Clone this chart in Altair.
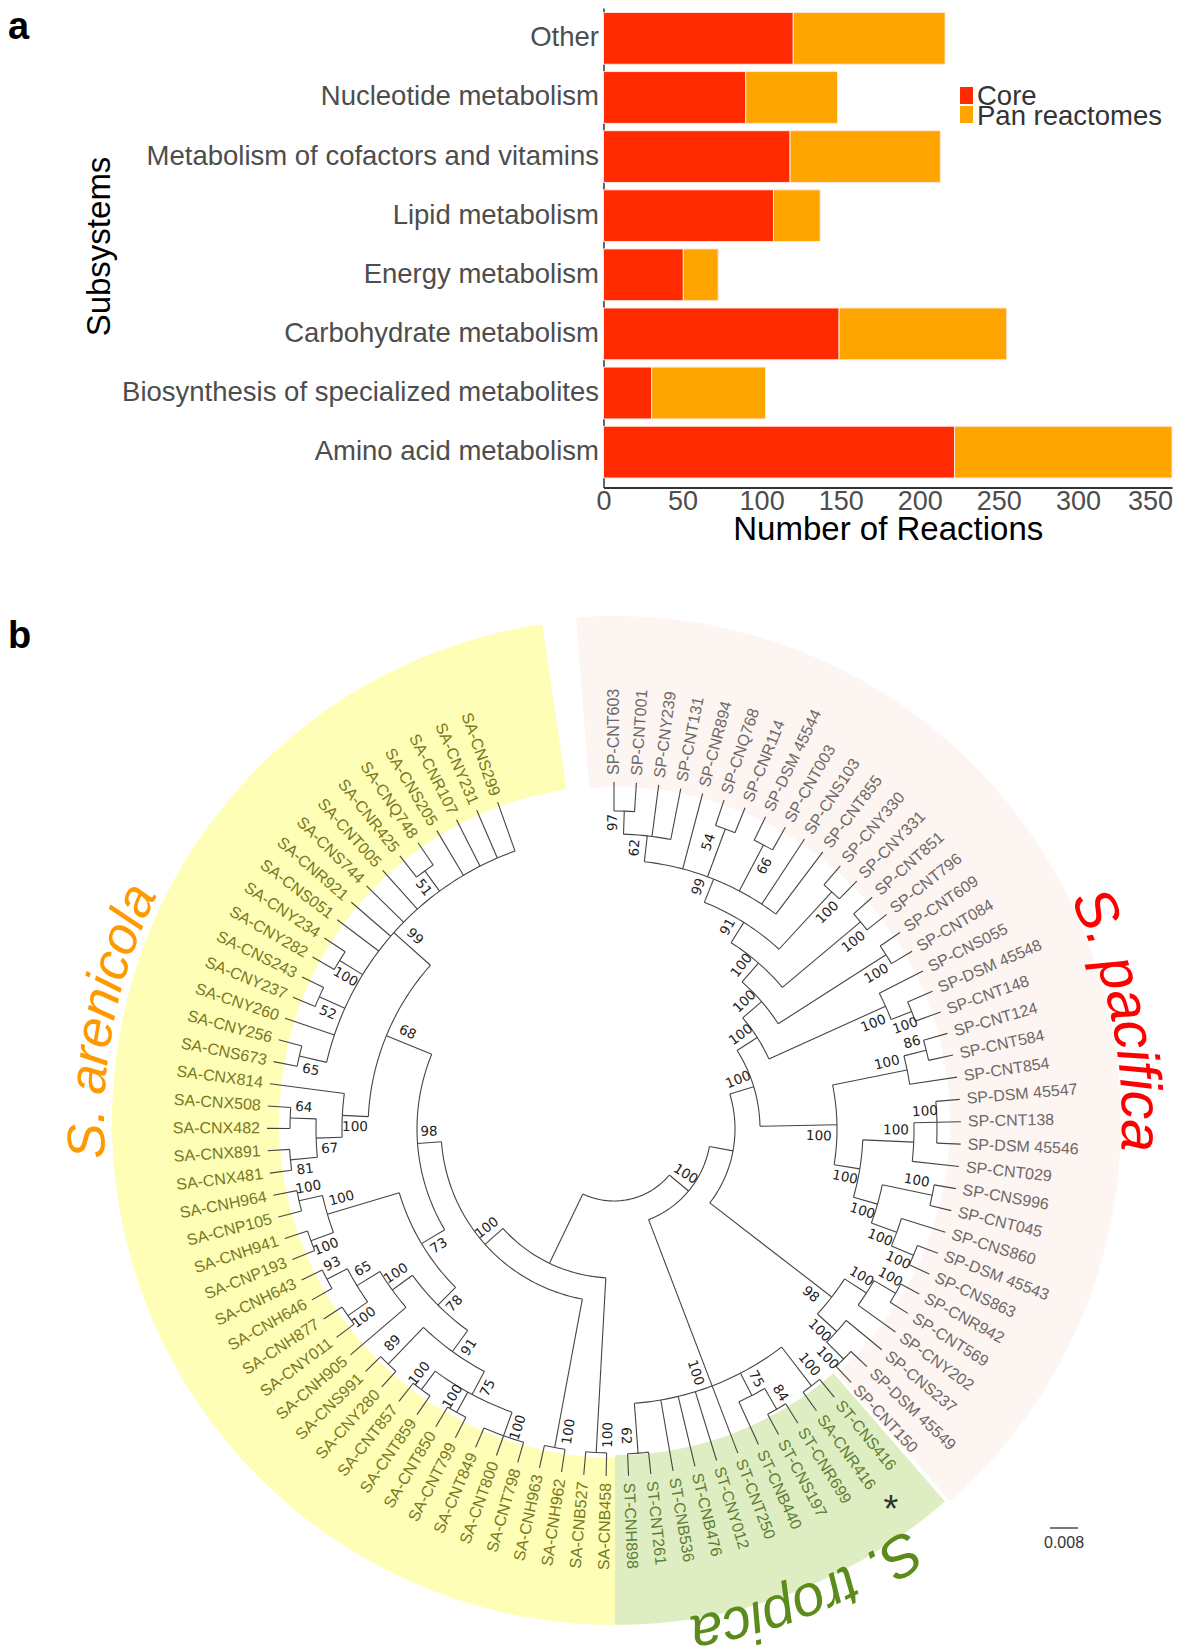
import math
import altair as alt
import pandas as pd

# ---------- panel a ----------
subsystems = ["Other", "Nucleotide metabolism", "Metabolism of cofactors and vitamins", "Lipid metabolism",
              "Energy metabolism", "Carbohydrate metabolism", "Biosynthesis of specialized metabolites",
              "Amino acid metabolism"]
core = [120, 90, 118, 107.5, 50.5, 149, 30.5, 222]
pan = [96, 58, 95, 29.5, 22, 106, 72, 137.5]
legend_names = ["Core", "Pan reactomes"]
legend_colors = ["#FF2A00", "#FFA500"]
FONT = "Liberation Sans"

# ---------- panel b ----------
leaves = ["SP-CNT603", "SP-CNT001", "SP-CNY239", "SP-CNT131", "SP-CNR894", "SP-CNQ768", "SP-CNR114", "SP-DSM 45544",
          "SP-CNT003", "SP-CNS103", "SP-CNT855", "SP-CNY330", "SP-CNY331", "SP-CNT851", "SP-CNT796", "SP-CNT609",
          "SP-CNT084", "SP-CNS055", "SP-DSM 45548", "SP-CNT148", "SP-CNT124", "SP-CNT584", "SP-CNT854", "SP-DSM 45547",
          "SP-CNT138", "SP-DSM 45546", "SP-CNT029", "SP-CNS996", "SP-CNT045", "SP-CNS860", "SP-DSM 45543", "SP-CNS863",
          "SP-CNR942", "SP-CNT569", "SP-CNY202", "SP-CNS237", "SP-DSM 45549", "SP-CNT150",
          "ST-CNS416", "SA-CNR416", "ST-CNR699", "ST-CNS197", "ST-CNB440", "ST-CNT250", "ST-CNY012", "ST-CNB476",
          "ST-CNB536", "ST-CNT261", "ST-CNH898",
          "SA-CNB458", "SA-CNB527", "SA-CNH962", "SA-CNH963", "SA-CNT798", "SA-CNT800", "SA-CNT849", "SA-CNT799",
          "SA-CNT850", "SA-CNT859", "SA-CNT857", "SA-CNY280", "SA-CNS991", "SA-CNH905", "SA-CNY011", "SA-CNH877",
          "SA-CNH646", "SA-CNH643", "SA-CNP193", "SA-CNH941", "SA-CNP105", "SA-CNH964", "SA-CNX481", "SA-CNX891",
          "SA-CNX482", "SA-CNX508", "SA-CNX814", "SA-CNS673", "SA-CNY256", "SA-CNY260", "SA-CNY237", "SA-CNS243",
          "SA-CNY282", "SA-CNY234", "SA-CNS051", "SA-CNR921", "SA-CNS744", "SA-CNT005", "SA-CNR425", "SA-CNQ748",
          "SA-CNS205", "SA-CNR107", "SA-CNY231", "SA-CNS299"]

# node = (radius, support, label side, children); an int child is an index in leaves
sp_top = (269, "99", -1, [(295, "62", -1, [(318, "97", -1, [0, 1]), 2, 3]), 4, (320, "54", -1, [5, 6]),
                          (321, "66", 1, [7, 8]), 9, 10])
sp_a = (244, "91", -1, [sp_top, (322, "100", 1, [11, 12])])
sp_b = (220, "100", -1, [sp_a, (322, "100", 1, [13, 14])])
sp_c = (195, "100", -1, [sp_b, (323, "100", 1, [15, 16])])
sp_d = (170, "100", -1, [sp_c, (298, "100", 1, [17, (320, "100", 1, [18, 19])])])
sp_e = (223, "100", 1, [(299, "100", -1, [(322, "86", -1, [20, 21]), 22]),
                        (249, "100", 1, [(300, "100", -1, [(323, "100", -1, [23, 24, 25]), 26]),
                                         (274, "100", 1, [(325, "100", -1, [27, 28]),
                                                          (301, "100", 1, [29, (325, "100", 1, [30, 31])])])])])
sp_f = (275, "98", 1, [(301, "100", -1, [(326, "100", -1, [32, 33]), 34]),
                       (301, "100", 1, [35, (325, "100", 1, [36, 37])])])
sp_all = (121, None, 1, [(146, "100", -1, [sp_d, sp_e]), sp_f])
st_all = (275, "100", 1, [(324, "100", -1, [38, 39]), (300, "75", -1, [(324, "84", -1, [40, 41]), 42]),
                          43, 44, 45, 46, (325, "62", 1, [47, 48])])
sa_a = (275, "91", -1, [(301, "75", -1, [(326, "100", -1, [53, 54, 55]), (324, "100", 1, [56, 57]),
                                         (324, "100", 1, [58, 59])]), (326, "89", 1, [60, 61])])
sa_b = (274, "100", 1, [62, (301, "65", 1, [(325, "100", -1, [63, 64]), (324, "93", 1, [65, 66])])])
sa_c = (224, "73", -1, [(249, "78", -1, [sa_a, sa_b]),
                        (299, "100", 1, [(323, "100", -1, [67, 68]), (323, "100", 1, [69, 70])])])
sa_d = (272, "100", -1, [(298, "67", -1, [(325, "81", -1, [71, 72]), (324, "64", 1, [73, 74])]), 75])
sa_e = (295, "99", 1, [(323, "65", -1, [76, 77]), 78, (323, "52", -1, [79, 80]), (322, "100", -1, [81, 82]),
                       83, 84, 85, 86, (320, "51", -1, [87, 88]), 89, 90, 91, 92])
sa_all = (149, None, 1, [(324, "100", -1, [49, 50]),
                         (173, "100", 1, [(324, "100", -1, [51, 52]),
                                          (197, "98", 1, [sa_c, (246, "68", 1, [sa_d, sa_e])])])])
tree = (72, None, 1, [(97, "100", -1, [sp_all, st_all]), sa_all])

CX, CY = 614, 1129        # tree centre
RING_CX, RING_CY = 615, 1122
STEP = 3.70               # degrees between neighbouring tips
TIP = 347
sectors = pd.DataFrame({
    "cx": [RING_CX] * 3, "cy": [RING_CY] * 3,
    "a0": [math.radians(a) for a in (180, -4.4, 139)],
    "a1": [math.radians(a) for a in (351.7, 138.5, 180)],
    "r0": [336, 335, 333], "r1": [503, 506, 503],
    "c": ["#FEFEB6", "#FCF5F2", "#DFEEC2"]})


def pol(theta, r):
    t = math.radians(theta)
    return CX + r * math.sin(t), CY - r * math.cos(t)


seg_rows, sup_rows, leaf_rows = [], [], []
seg_id = [0]


def add_line(points):
    seg_id[0] += 1
    for k, (th, r) in enumerate(points):
        x, y = pol(th, r)
        seg_rows.append({"id": seg_id[0], "o": k, "x": x, "y": y})


def rot_right(th):
    return (th - 90) % 360


def rot_left(th):
    return (th - 270) % 360


def layout(node, parent_r):
    if isinstance(node, int):
        th = node * STEP
        add_line([(th, parent_r), (th, TIP)])
        x, y = pol(th, TIP + 7)
        name = leaves[node]
        col = {"SP": "#6F6767", "SA": "#78781F", "ST": "#5F7D33"}[name[:2]]
        if node == 39:
            col = "#5F7D33"
        leaf_rows.append({"name": name, "x": x, "y": y, "c": col, "rot": rot_right(th) if th < 180 else rot_left(th),
                          "right": th < 180})
        return th
    r, sup, side, kids = node
    ths = [layout(c, r) for c in kids]
    th = (ths[0] + ths[-1]) / 2
    n = max(2, int(abs(ths[-1] - ths[0]) / 1.0) + 1)
    add_line([(ths[0] + (ths[-1] - ths[0]) * i / n, r) for i in range(n + 1)])
    if parent_r is not None:
        add_line([(th, parent_r), (th, r)])
        if sup:
            rl = r - min((r - parent_r) / 2, 18)
            al = th + side * math.degrees(11 / rl)
            x, y = pol(al, rl)
            sup_rows.append({"t": sup, "x": x, "y": y, "rot": rot_right(al) if al < 180 else rot_left(al)})
    return th


layout(tree, None)
segs = pd.DataFrame(seg_rows)
sups = pd.DataFrame(sup_rows)
leaf_df = pd.DataFrame(leaf_rows)

GLYPH = {"S": .667, ".": .278, " ": .278, "p": .556, "a": .556, "c": .5, "i": .222, "f": .278, "r": .333,
         "e": .556, "n": .556, "o": .556, "l": .222, "t": .278}
species = [("S. pacifica", 64, 58, "#FF0000", 524), ("S. arenicola", 266, 53, "#FF9900", 527),
           ("S. tropica", 144.4, 58, "#5B8C1A", 517)]
sp_rows = []
for txt, start, size, col, rad in species:
    adv = 0
    for ch in txt:
        w = GLYPH[ch] * size
        th = start + math.degrees((adv + w / 2) / rad)
        x = RING_CX + rad * math.sin(math.radians(th))
        y = RING_CY - rad * math.cos(math.radians(th))
        sp_rows.append({"ch": ch, "x": x, "y": y, "rot": th % 360, "c": col, "s": size, "sp": txt})
        adv += w
sp_df = pd.DataFrame([r for r in sp_rows if r["ch"] != " "])

# ---------- chart a ----------
bar_df = pd.DataFrame({"s": subsystems * 2, "v": core + pan,
                       "k": ["Core"] * 8 + ["Pan reactomes"] * 8, "o": [0] * 8 + [1] * 8})
PLOT_L, PLOT_R, PLOT_B = 595.5, 1164, 479.5
W, H = 1165, 1640
bars = alt.Chart(bar_df).mark_bar(stroke="#FFE8E0", strokeWidth=1).encode(
    y=alt.Y("s:N", sort=subsystems,
            scale=alt.Scale(range=[0, PLOT_B], paddingInner=0.1235, paddingOuter=0.118, align=0.32),
            axis=alt.Axis(title="Subsystems", titleFont=FONT, titleFontSize=33, titleFontWeight="normal",
                          titleColor="#000", titleX=-504, titleY=238, titleAngle=-90, titleAlign="center",
                          titleBaseline="middle", labelFont=FONT, labelFontSize=27.5, labelColor="#4d4d4d",
                          labelPadding=5, tickSize=0, domainColor="#333", domainWidth=1.5, grid=False,
                          labelLimit=600, offset=-PLOT_L)),
    x=alt.X("v:Q", stack="zero", scale=alt.Scale(domain=[0, 359.5], range=[PLOT_L, PLOT_R], nice=False),
            axis=alt.Axis(title="Number of Reactions", values=[0, 50, 100, 150, 200, 250, 300, 350],
                          titleFont=FONT, titleFontSize=33, titleFontWeight="normal", titleColor="#000",
                          titleY=42, titleBaseline="middle", labelFont=FONT, labelFontSize=27,
                          labelColor="#4d4d4d", labelPadding=1, tickSize=0, domainColor="#333", domainWidth=2,
                          grid=False, labelFlush=False, offset=-(H - PLOT_B),
                          labelOffset=alt.expr("datum.value == 350 ? -7 : 0"))),
    color=alt.Color("k:N", scale=alt.Scale(domain=legend_names, range=legend_colors), legend=None),
    order=alt.Order("o:Q"))

# ---------- chart b ----------
XS = alt.Scale(domain=[8, 8 + W], range=[0, W], nice=False, zero=False)
YS = alt.Scale(domain=[8 + H, 8], range=[H, 0], nice=False, zero=False)
ex = alt.X("x:Q", scale=XS, axis=None)
ey = alt.Y("y:Q", scale=YS, axis=None)

legend_df = pd.DataFrame({"t": legend_names, "c": legend_colors, "x0": [960, 960], "x1": [973, 973],
                          "y0": [87, 106], "y1": [104, 123], "tx": [977, 977], "ty": [97, 117]})
legend_swatch = alt.Chart(legend_df).mark_rect().encode(
    x=alt.X("x0:Q", scale=XS, axis=None), x2="x1:Q", y=alt.Y("y0:Q", scale=YS, axis=None), y2="y1:Q",
    fill=alt.Fill("c:N", scale=None))
legend_text = alt.Chart(legend_df).mark_text(font=FONT, fontSize=27.5, align="left", baseline="middle",
                                             color="#333").encode(
    x=alt.X("tx:Q", scale=XS, axis=None), y=alt.Y("ty:Q", scale=YS, axis=None), text="t:N")

rings = alt.Chart(sectors).mark_arc().encode(
    x=alt.X("cx:Q", scale=XS, axis=None), y=alt.Y("cy:Q", scale=YS, axis=None),
    theta=alt.Theta("a0:Q", scale=None, stack=None), theta2=alt.Theta2("a1:Q"),
    radius=alt.Radius("r1:Q", scale=None), radius2=alt.Radius2("r0:Q"),
    fill=alt.Fill("c:N", scale=None))
branches = alt.Chart(segs).mark_line(color="#444", strokeWidth=1.1).encode(
    x=ex, y=ey, detail="id:N", order="o:Q")
support = alt.Chart(sups).mark_text(font="DejaVu Sans", fontSize=13.5, color="#222", baseline="middle").encode(
    x=ex, y=ey, text="t:N", angle=alt.Angle("rot:Q", scale=None))
labels_r = alt.Chart(leaf_df[leaf_df.right]).mark_text(font=FONT, fontSize=16, align="left", baseline="middle").encode(
    x=ex, y=ey, text="name:N", angle=alt.Angle("rot:Q", scale=None), color=alt.Color("c:N", scale=None))
labels_l = alt.Chart(leaf_df[~leaf_df.right]).mark_text(font=FONT, fontSize=16, align="right", baseline="middle").encode(
    x=ex, y=ey, text="name:N", angle=alt.Angle("rot:Q", scale=None), color=alt.Color("c:N", scale=None))
species_text = alt.Chart(sp_df).mark_text(font=FONT, fontStyle="italic", baseline="middle").encode(
    x=ex, y=ey, text="ch:N", angle=alt.Angle("rot:Q", scale=None), color=alt.Color("c:N", scale=None),
    size=alt.Size("s:Q", scale=None))
panel_tags = alt.Chart(pd.DataFrame({"t": ["a", "b"], "x": [8, 8], "y": [28, 637]})).mark_text(
    font=FONT, fontWeight="bold", fontSize=38, align="left", baseline="middle", color="#000").encode(
    x=ex, y=ey, text="t:N")
notes = alt.Chart(pd.DataFrame({"t": ["*", "0.008"], "x": [891, 1064], "y": [1511, 1543], "s": [38, 16]})).mark_text(
    font=FONT, baseline="middle", color="#333").encode(
    x=ex, y=ey, text="t:N", size=alt.Size("s:Q", scale=None))
scale_bar = alt.Chart(pd.DataFrame({"x": [1050, 1078], "y": [1528, 1528]})).mark_line(
    color="#777", strokeWidth=2).encode(x=ex, y=ey)
bottom = alt.layer(rings, branches, support, labels_r, labels_l, species_text, panel_tags, notes, scale_bar,
                   legend_swatch, legend_text)

chart = alt.layer(bars, bottom).resolve_scale(x="independent", y="independent", color="independent").properties(
    width=W, height=H, padding=0, background="white", autosize=alt.AutoSizeParams(type="none")
).configure_view(stroke=None)
chart.save("out.html", embed_options={"renderer": "svg", "actions": False})
